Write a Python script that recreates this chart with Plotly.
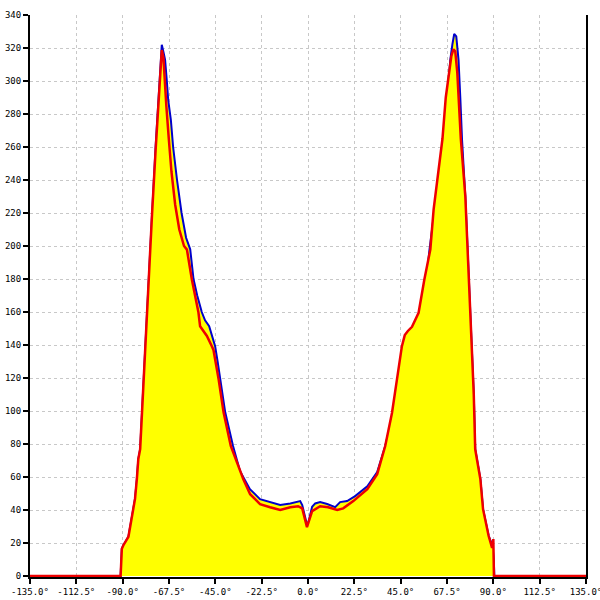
import plotly.graph_objects as go

# Angles (degrees) and intensities
blue_angle = [-135, -91.0, -90.4, -89.7, -87.2, -85.6, -84.0, -83.1, -82.4, -81.5, -80.6, -79.1, -77.4,
              -75.7, -74.0, -72.5, -71.6, -71.0, -70.1, -69.4, -68.6, -67.9, -66.6, -65.5, -63.6, -61.4,
              -59.2, -57.2, -55.6, -53.8, -51.6, -50.0, -48.0, -46.6, -45.1, -43.9, -42.7, -40.2, -36.4,
              -33.0, -30.6, -28.2, -23.3, -18.4, -13.5, -8.6, -6.2, -3.8, -2.8, -0.3, 2.0, 3.5, 5.9, 9.3,
              13.2, 15.6, 19.0, 22.9, 28.8, 33.6, 37.5, 41.5, 44.0, 45.6, 47.2, 50.5, 54.5, 57.4, 59.0,
              61.3, 63.5, 65.8, 67.5, 69.1, 70.1, 71.0, 72.0, 73.1, 74.0, 74.8, 76.4, 77.8, 79.3, 80.5,
              81.2, 83.7, 85.0, 87.7, 89.6, 90.2, 90.5, 135]
blue_value = [0, 0, 16.5, 18.5, 23.8, 34.6, 46.7, 58.8, 70.9, 76.9, 100, 140, 180,
              220, 260, 295, 315, 322, 317, 312.8, 300.7, 288.6, 276.5, 260, 240, 220,
              205, 198, 180, 170, 160, 155, 151.4, 145, 139.3, 130, 119.2, 99.2, 78.8,
              63.5, 58, 52.6, 46.6, 44.8, 43, 44, 44.8, 45.4, 43, 30, 42, 44, 44.8, 43.6,
              41.7, 44.8, 45.4, 48.4, 54.4, 63, 78.8, 99, 119.2, 131.3, 139.3, 147.6, 159.5, 179.7, 197.8,
              220, 240, 264.4, 288.6, 312.8, 322, 328.5, 327, 312.8, 288.6, 264.4, 230, 190, 150, 110,
              76.8, 58.7, 40.5, 24.4, 18.3, 10, 0, 0]

red_angle = [-135, -91.0, -90.4, -89.7, -87.2, -85.6, -84.0, -83.1, -82.4, -81.5, -80.6, -79.1, -77.4,
             -75.7, -74.0, -72.5, -71.6, -71.0, -70.2, -69.6, -68.8, -67.6, -66.3, -64.5, -62.5, -60.2,
             -58.8, -56.4, -53.2, -52.4, -49.1, -46.7, -45.9, -43.4, -41.0, -37.5, -31.4, -28.1, -23.3,
             -18.4, -13.5, -8.6, -4.8, -2.8, -0.5, 2.0, 5.9, 9.8, 14.2, 17.1, 22.0, 28.8, 33.6, 37.5,
             40.8, 43.2, 44.5, 45.6, 47.0, 48.5, 50.5, 53.7, 56.5, 59.4, 61.0, 63.0, 65.3, 66.9, 68.3,
             69.6, 70.6, 71.5, 72.5, 73.4, 74.2, 76.4, 77.8, 79.3, 80.5, 81.2, 83.7, 85.0, 87.7, 89.4,
             90.0, 90.3, 135]
red_value = [0, 0, 16.5, 18.5, 23.8, 34.6, 46.7, 58.8, 70.9, 76.9, 100, 140, 180,
             220, 258, 290, 310, 318.8, 314, 300, 285, 265, 245, 225, 210, 200,
             197.8, 179.7, 159.7, 151.4, 145.5, 139.3, 137, 119.2, 99.2, 78.8, 58.7, 49.6, 43.6,
             41.7, 40, 41.7, 42.3, 41, 29.6, 39.3, 42.3, 41.7, 40, 41, 45.4, 52.6, 61.7, 78.8,
             99, 119.2, 131.3, 139.3, 146, 148.5, 151, 159.5, 179.7, 197.8, 222, 242, 265, 290, 305,
             315, 319.2, 318, 305, 285, 265, 230, 190, 150, 110, 76.8, 58.7, 40.5, 24.4, 17,
             22.4, 0, 0]

x_ticks = [-135, -112.5, -90, -67.5, -45, -22.5, 0, 22.5, 45, 67.5, 90, 112.5, 135]
x_tick_labels = [f"{v:.1f}°" for v in x_ticks]
y_ticks = list(range(0, 341, 20))

fig = go.Figure()
fig.add_trace(go.Scatter(x=blue_angle, y=blue_value, mode="lines", fill="tozeroy",
                         fillcolor="#ffff00", line=dict(color="#0000cc", width=2)))
fig.add_trace(go.Scatter(x=red_angle, y=red_value, mode="lines", fill="tozeroy",
                         fillcolor="#ffff00", line=dict(color="#ee0000", width=2.5)))

grid = dict(showgrid=True, gridcolor="#c8c8c8", griddash="3px,3px", gridwidth=1)
font = dict(family="DejaVu Sans Mono", size=9, color="#000000")
fig.update_layout(
    width=600, height=600, showlegend=False,
    paper_bgcolor="white", plot_bgcolor="white",
    margin=dict(l=30, r=14, t=15, b=23, autoexpand=False),
    xaxis=dict(range=[-135, 135], tickmode="array", tickvals=x_ticks, ticktext=x_tick_labels,
               showline=True, linecolor="black", linewidth=2, ticks="outside", ticklen=5,
               tickcolor="black", tickwidth=2, zeroline=False, tickfont=font, automargin=False,
               ticklabeloverflow="allow", layer="below traces", **grid),
    yaxis=dict(range=[-0.6, 340], tickmode="array", tickvals=y_ticks,
               showline=True, linecolor="black", linewidth=2, mirror=True, ticks="outside",
               ticklen=5, tickcolor="black", tickwidth=2, zeroline=False, tickfont=font,
               automargin=False, ticklabeloverflow="allow", layer="below traces", **grid),
)
fig.write_html("out.html", config={"displayModeBar": False},
               post_script="document.body.style.margin='0';document.body.style.overflow='hidden';")
